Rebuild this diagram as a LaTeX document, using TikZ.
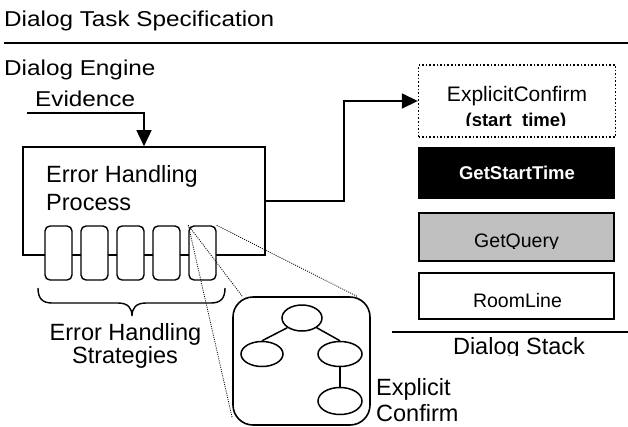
\documentclass[tikz,border=0pt]{standalone}
\usepackage{fontspec}
\setmainfont{Liberation Sans}
\newfontfamily\widesans[FakeStretch=1.13]{Liberation Sans}
\usetikzlibrary{arrows.meta,shapes.geometric,calc}
\definecolor{stackgray}{RGB}{192,192,192}
\tikzset{
  toplbl/.style={inner sep=0pt, anchor=base west, font=\widesans\fontsize{21.5}{25}\selectfont},
  lbl/.style={inner sep=0pt, font=\fontsize{23.5}{28}\selectfont},
  frame/.style={draw, line width=1.6pt, inner sep=0pt},
  strat/.style={draw, line width=1.4pt, fill=white, rounded corners=5pt,
    minimum width=27pt, minimum height=54pt, inner sep=0pt},
  stackbox/.style={draw, line width=1.6pt, minimum width=196pt, inner sep=0pt},
  boxtext/.style={inner sep=0pt, anchor=base, font=\fontsize{19.5}{23}\selectfont},
  flow/.style={line width=1.6pt, -{Triangle[length=16pt,width=15pt]}},
  zoomline/.style={line width=0.8pt, dash pattern=on 1pt off 1.2pt},
  treenode/.style={draw, ellipse, line width=1.5pt, inner sep=0pt},
  treeedge/.style={line width=1.5pt},
}
\begin{document}
\begin{tikzpicture}[x=1pt,y=-1pt]
\useasboundingbox[fill=white] (0,0) rectangle (628,426);

% headings
\node[toplbl] (spec) at (4,26) {Dialog Task Specification};
\draw[line width=2.6pt] (4,43) -- (628,43);
\node[toplbl] (engine) at (4,75) {Dialog Engine};
\node[toplbl] (evid) at (35,106) {Evidence};

% error handling process with its strategies
\node[frame, minimum width=242pt, minimum height=108pt] (ehp) at (144,201) {};
\node[lbl, anchor=base west] (ehp1) at (46,182) {Error Handling};
\node[lbl, anchor=base west] (ehp2) at (46,210) {Process};
\foreach \i/\x in {1/58.5,2/94.5,3/130.5,4/166.5,5/202.5}
  \node[strat] (s\i) at (\x,253) {};

% evidence arrow into the process
\coordinate (evtail) at (27,113);
\draw[flow] (evtail) -| (ehp.north);

% brace under the strategies
\draw[line width=1.4pt]
  (38,288) .. controls (38,298) and (42,303) .. (52,303) -- (118,303)
  .. controls (128,303) and (132,308) .. (132,316)
  .. controls (132,308) and (136,303) .. (146,303) -- (211,303)
  .. controls (221,303) and (225,298) .. (225,288);
\node[lbl, anchor=base] (strat1) at (125.5,340) {Error Handling};
\node[lbl, anchor=base] (strat2) at (125,363) {Strategies};

% dialog stack
\node[stackbox, dotted, line width=1.4pt, minimum width=197pt, minimum height=72pt] (ec) at (517,101) {};
\node[boxtext, font=\fontsize{21}{25}\selectfont] (ec1) at (517,101) {ExplicitConfirm};
\begin{scope}
  \clip (420,104) rectangle (614,125.5);
  \node[boxtext, font=\bfseries\fontsize{18.5}{22}\selectfont] (ec2) at (516,126) {(start\_time)};
\end{scope}
\node[stackbox, fill=black, minimum height=50pt] (gst) at (516.5,173) {};
\node[boxtext, text=white, font=\bfseries\fontsize{18.5}{22}\selectfont] (gst1) at (517,179.5) {GetStartTime};
\node[stackbox, fill=stackgray, minimum width=195pt, minimum height=48pt] (gq) at (516.5,237) {};
\begin{scope}
  \clip (420,214) rectangle (613,248.5);
  \node[boxtext] (gq1) at (516.5,247) {GetQuery};
\end{scope}
\node[stackbox, minimum width=195pt, minimum height=46pt] (rl) at (516.5,296) {};
\node[boxtext] (rl1) at (517.5,307) {RoomLine};
\draw[line width=1.5pt] (392,332) -- (628,332);
\begin{scope}
  \clip (400,333) rectangle (628,355.5);
  \node[lbl, anchor=base] (ds) at (519,354.8) {Dialog Stack};
\end{scope}

% process pushes an agent onto the stack
\draw[flow] (ehp.east) -- ++(78,0) |- (ec.west);

% expanded strategy
\node[frame, rounded corners=20pt, minimum width=137pt, minimum height=128pt] (zb) at (301.5,361) {};
\node[treenode, minimum width=40pt, minimum height=26pt] (t1) at (302,318) {};
\node[treenode, minimum width=42pt, minimum height=25pt] (t2) at (262,354) {};
\node[treenode, minimum width=44pt, minimum height=25pt] (t3) at (340,354) {};
\node[treenode, minimum width=44pt, minimum height=27pt] (t4) at (340,401) {};
\draw[treeedge] (t1.south west) -- (t2.north);
\draw[treeedge] (t1.south east) -- (t3.north);
\draw[treeedge] (t3) -- (t4);
\node[lbl, anchor=base west] (xc1) at (376,395) {Explicit};
\node[lbl, anchor=base west] (xc2) at (376,421.5) {Confirm};

% zoom lines from the last strategy to its expansion
\coordinate (zbtl) at ($(zb.north west)+(10,0)$);
\coordinate (zbtr) at ($(zb.north east)+(-14,0)$);
\coordinate (zbbl) at ($(zb.south west)+(0,-8)$);
\draw[zoomline] (s5.north west) -- (zbtl);
\draw[zoomline] (s5.north west) -- (zbbl);
\draw[zoomline] (s5.north east) -- (zbtr);
\end{tikzpicture}
\end{document}
